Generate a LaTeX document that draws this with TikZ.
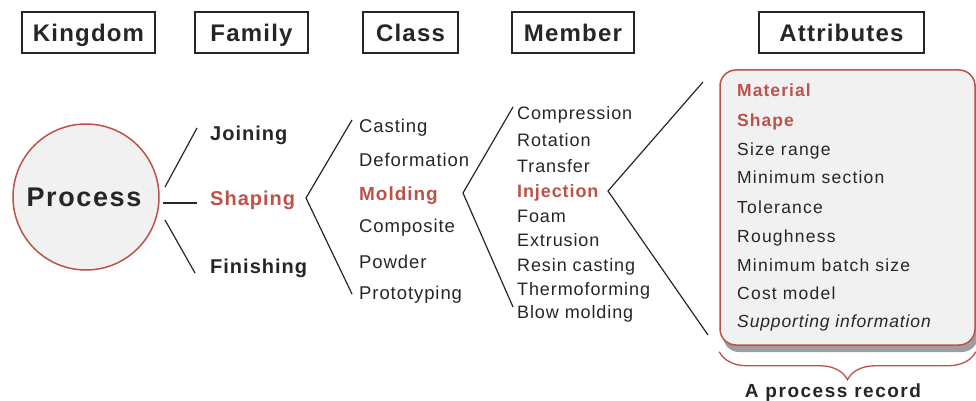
\documentclass[tikz,border=0pt]{standalone}
\usepackage{fontspec}
\setmainfont{Liberation Sans}[LetterSpace=5]
\usetikzlibrary{decorations.pathreplacing}
\definecolor{rec}{HTML}{BC524A}
\definecolor{ink}{HTML}{262626}
\definecolor{pale}{HTML}{F1F1F1}
\begin{document}
\begin{tikzpicture}[x=1pt,y=-1pt,
  hdr/.style={draw=ink, line width=1.3pt, minimum height=41pt, inner sep=0pt,
    text height=18pt, text depth=0pt, text=ink,
    font=\fontsize{24}{24}\selectfont\bfseries},
  fam/.style={anchor=base west, inner sep=0pt, text=ink,
    font=\fontsize{20}{20}\selectfont\bfseries},
  cls/.style={anchor=base west, inner sep=0pt, text=ink,
    font=\fontsize{18.5}{18.5}\selectfont},
  mem/.style={anchor=base west, inner sep=0pt, text=ink,
    font=\fontsize{18}{18}\selectfont},
  att/.style={anchor=base west, inner sep=0pt, text=ink,
    font=\fontsize{17.5}{17.5}\selectfont\addfontfeatures{LetterSpace=7}},
  hot/.style={text=rec, font=\fontsize{18}{18}\selectfont\bfseries},
  fan/.style={draw=ink, line width=1.2pt},
]
\useasboundingbox (0,0) rectangle (976,401);

% column headings
\node[hdr, minimum width=133pt] (hk) at (88.5,32.5) {Kingdom};
\node[hdr, minimum width=113pt] (hf) at (251.5,32.5) {Family};
\node[hdr, minimum width=95pt]  (hc) at (410.5,32.5) {Class};
\node[hdr, minimum width=122pt] (hm) at (573,32.5) {Member};
\node[hdr, minimum width=165pt] (ha) at (841.5,32.5) {Attributes};

% kingdom
\node[circle, draw=rec, fill=pale, line width=1.5pt, minimum size=146pt, inner sep=0pt] (proc) at (86,197) {};
\node[inner sep=0pt, text=ink, font=\fontsize{27}{27}\selectfont\bfseries\addfontfeatures{LetterSpace=6}]
  (proct) at (84,197) {Process};

% families
\node[fam] (join) at (210,140) {Joining};
\node[fam, text=rec] (shap) at (210,205) {Shaping};
\node[fam] (fini) at (210,273) {Finishing};

\coordinate (j1) at (165,187); \coordinate (j2) at (197,128);
\coordinate (s1) at (163,203); \coordinate (s2) at (197,203);
\coordinate (f1) at (165,220); \coordinate (f2) at (195,273);
\draw[fan] (j1) -- (j2);
\draw[fan] (s1) -- (s2);
\draw[fan] (f1) -- (f2);

% classes
\coordinate (c0) at (306,198); \coordinate (c1) at (352,120); \coordinate (c2) at (352,294);
\draw[fan] (c1) -- (c0) -- (c2);
\node[cls] (cast) at (359,132) {Casting};
\node[cls] (defo) at (359,166) {Deformation};
\node[cls, hot, font=\fontsize{19}{19}\selectfont\bfseries] (mold) at (359,200) {Molding};
\node[cls] (comp) at (359,232) {Composite};
\node[cls] (powd) at (359,268) {Powder};
\node[cls] (prot) at (359,299) {Prototyping};

% members
\coordinate (m0) at (463,193); \coordinate (m1) at (513,107); \coordinate (m2) at (513,307);
\draw[fan] (m1) -- (m0) -- (m2);
\node[mem] (mcmp) at (517,120) {Compression};
\node[mem] (mrot) at (517,146.5) {Rotation};
\node[mem] (mtra) at (517,172.5) {Transfer};
\node[mem, hot] (minj) at (517,197) {Injection};
\node[mem] (mfoa) at (517,222) {Foam};
\node[mem] (mext) at (517,246.5) {Extrusion};
\node[mem] (mres) at (517,271) {Resin casting};
\node[mem] (mthe) at (517,295) {Thermoforming};
\node[mem] (mblo) at (517,318) {Blow molding};

% attributes
\coordinate (a0) at (608,191); \coordinate (a1) at (703,82); \coordinate (a2) at (708,335);
\draw[fan] (a1) -- (a0) -- (a2);

\fill[black!38, rounded corners=16pt] (723,77) rectangle (978,352);
\node[draw=rec, fill=pale, line width=1.5pt, rounded corners=16pt,
  minimum width=255pt, minimum height=275pt, inner sep=0pt] (rec) at (847.5,207.5) {};

\node[att, hot, font=\fontsize{17.5}{17.5}\selectfont\bfseries\addfontfeatures{LetterSpace=6}] (amat) at (737,97) {Material};
\node[att, hot, font=\fontsize{17.5}{17.5}\selectfont\bfseries\addfontfeatures{LetterSpace=6}] (asha) at (737,126) {Shape};
\node[att] (asiz) at (737,155) {Size range};
\node[att] (amin) at (737,183.5) {Minimum section};
\node[att] (atol) at (737,213) {Tolerance};
\node[att] (arou) at (737,242) {Roughness};
\node[att] (abat) at (737,271) {Minimum batch size};
\node[att] (acos) at (737,299.5) {Cost model};
\node[att, font=\fontsize{17.5}{17.5}\selectfont\itshape\addfontfeatures{LetterSpace=5}] (asup) at (737,327) {Supporting information};

% record brace and caption
\coordinate (b1) at ([yshift=-6pt]rec.south west);
\coordinate (b2) at ([yshift=-6pt]rec.south east);
\draw[draw=rec, line width=1.3pt, decorate,
  decoration={brace, mirror, amplitude=28pt}] (b1) -- (b2);
\node[anchor=base, inner sep=0pt, text=ink,
  font=\fontsize{19}{19}\selectfont\bfseries\addfontfeatures{LetterSpace=8}]
  (cap) at (833,397) {A process record};
\end{tikzpicture}
\end{document}
